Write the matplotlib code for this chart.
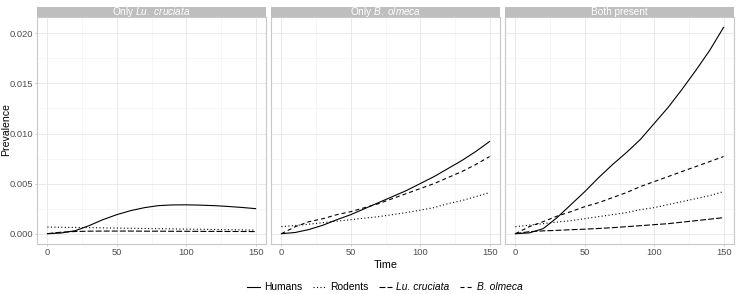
import matplotlib.pyplot as plt
from matplotlib.lines import Line2D

plt.rcParams['font.family'] = ['Liberation Sans', 'DejaVu Sans']
plt.rcParams['mathtext.fontset'] = 'custom'
plt.rcParams['mathtext.rm'] = 'Liberation Sans'
plt.rcParams['mathtext.it'] = 'Liberation Sans:italic'
plt.rcParams['lines.scale_dashes'] = False

# time points
time = [0, 10, 20, 30, 40, 50, 60, 70, 80, 90, 100, 110, 120, 130, 140, 150]

# Only Lu. cruciata (B. olmeca absent -> None)
lu_humans = [0, 0.00007, 0.0003, 0.0008, 0.0014, 0.0019, 0.0023, 0.0026, 0.0028, 0.00287,
             0.00288, 0.00285, 0.0028, 0.00272, 0.00262, 0.0025]
lu_rodents = [0.00066, 0.00064, 0.00062, 0.0006, 0.00058, 0.00056, 0.00054, 0.00052, 0.0005,
              0.00048, 0.00046, 0.00044, 0.00042, 0.0004, 0.00038, 0.00036]
lu_lu = [0, 0.00015, 0.00022, 0.00025, 0.00026, 0.00026, 0.00026, 0.00025, 0.00025, 0.00024,
         0.00024, 0.00023, 0.00023, 0.00022, 0.00022, 0.00021]
lu_bo = None

# Only B. olmeca (Lu. cruciata absent)
bo_humans = [0, 0.00012, 0.00042, 0.00085, 0.0014, 0.0019, 0.0025, 0.0031, 0.0037, 0.0043,
             0.005, 0.0057, 0.0065, 0.0073, 0.0082, 0.0092]
bo_rodents = [0.0007, 0.00082, 0.00095, 0.0011, 0.00125, 0.0014, 0.00155, 0.0017, 0.0019, 0.0021,
              0.00235, 0.0026, 0.003, 0.0033, 0.0037, 0.0041]
bo_lu = None
bo_bo = [0, 0.0007, 0.0012, 0.0015, 0.0019, 0.0022, 0.0026, 0.003, 0.0035, 0.004,
         0.0045, 0.005, 0.0056, 0.0062, 0.0069, 0.0077]

# Both present
both_humans = [0, 0.00008, 0.0005, 0.0016, 0.0029, 0.0042, 0.0056, 0.0069, 0.0081, 0.0094,
               0.011, 0.0126, 0.0144, 0.0163, 0.0183, 0.0206]
both_rodents = [0.0007, 0.00085, 0.001, 0.00116, 0.0013, 0.0015, 0.0017, 0.0019, 0.0021, 0.0024,
                0.0026, 0.0029, 0.0032, 0.0035, 0.0038, 0.0042]
both_lu = [0, 0.0002, 0.00028, 0.00033, 0.0004, 0.00045, 0.00052, 0.0006, 0.0007, 0.0008,
           0.0009, 0.001, 0.00115, 0.0013, 0.00145, 0.0016]
both_bo = [0, 0.0007, 0.0012, 0.00175, 0.0022, 0.0027, 0.0031, 0.0036, 0.0041, 0.0047,
           0.0052, 0.0057, 0.0062, 0.0067, 0.0072, 0.0077]

panels = [
    ("Only $\\it{Lu.}$ $\\it{cruciata}$", [lu_humans, lu_rodents, lu_lu, lu_bo]),
    ("Only $\\it{B.}$ $\\it{olmeca}$", [bo_humans, bo_rodents, bo_lu, bo_bo]),
    ("Both present", [both_humans, both_rodents, both_lu, both_bo]),
]
series_names = ["Humans", "Rodents", "Lu. cruciata", "B. olmeca"]
styles = ['-', (0, (0.8, 1.7)), (0, (4.3, 1.5)), (0, (2.9, 2.2))]

W, H = 736, 294
fig = plt.figure(figsize=(W / 100, H / 100), dpi=100)
lefts = [37, 271, 505]
pw = 229
top, bottom = 17, 244
strip_h = 10.5
tick_c = '#4D4D4D'

for i, (title, data) in enumerate(panels):
    ax = fig.add_axes([lefts[i] / W, 1 - bottom / H, pw / W, (bottom - top) / H])
    for vals, ls in zip(data, styles):
        if vals is None:
            continue
        ax.plot(time, vals, color='black', lw=0.8, linestyle=ls)
    ax.set_xlim(-7.5, 157.5)
    ax.set_ylim(-0.00103, 0.02163)
    ax.set_xticks([0, 50, 100, 150])
    ax.set_xticks([25, 75, 125], minor=True)
    ax.set_yticks([0, 0.005, 0.01, 0.015, 0.02])
    ax.set_yticks([0.0025, 0.0075, 0.0125, 0.0175], minor=True)
    ax.grid(which='major', color='#E6E6E6', lw=0.6)
    ax.grid(which='minor', color='#F0F0F0', lw=0.4)
    ax.set_axisbelow(True)
    for s in ax.spines.values():
        s.set_color('#C8C8C8')
        s.set_linewidth(0.8)
    ax.tick_params(which='major', length=1.5, width=0.5, color='#B3B3B3',
                   labelsize=6.7, labelcolor=tick_c, pad=1.5)
    ax.tick_params(which='minor', length=0)
    if i == 0:
        ax.set_yticklabels(["0.000", "0.005", "0.010", "0.015", "0.020"])
    else:
        ax.tick_params(axis='y', length=0, labelleft=False)
    if i == 1:
        ax.set_xlabel("Time", fontsize=7.8, labelpad=2)
    # facet strip
    sax = fig.add_axes([lefts[i] / W, 1 - top / H, pw / W, strip_h / H])
    sax.set_facecolor('#BEBEBE')
    sax.set_xticks([])
    sax.set_yticks([])
    for s in sax.spines.values():
        s.set_visible(False)
    sax.text(0.5, 0.5, title, color='white', fontsize=7.2, ha='center', va='center',
             transform=sax.transAxes)

fig.text(6 / W, 1 - 130 / H, "Prevalence", rotation=90, fontsize=7.6,
         ha='center', va='center')

handles = [Line2D([], [], color='black', lw=0.8, linestyle=ls) for ls in styles]
leg = fig.legend(handles, series_names, loc='center', bbox_to_anchor=(385 / W, 1 - 287.5 / H),
                 ncol=4, frameon=False, fontsize=7.4, handlelength=1.3, handletextpad=0.4,
                 columnspacing=1.0)
leg.get_texts()[2].set_style('italic')
leg.get_texts()[3].set_style('italic')

fig.savefig("out.png", dpi=100)
